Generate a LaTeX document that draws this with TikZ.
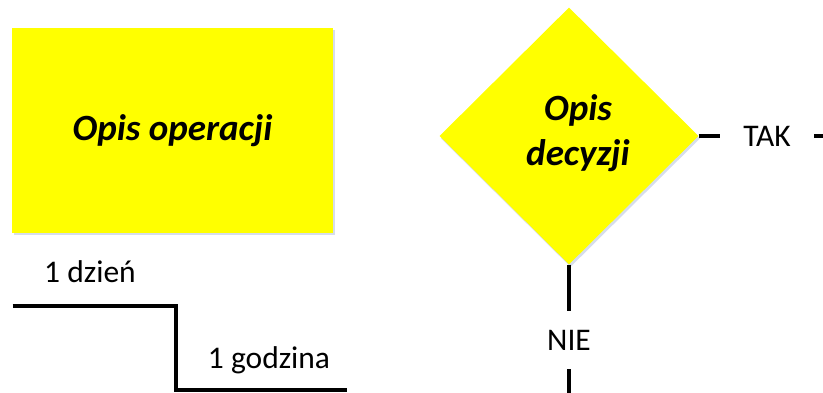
\documentclass[tikz,border=0pt]{standalone}
\usepackage{fontspec}
\setmainfont{Carlito}
\usetikzlibrary{
		positioning,
		shapes.geometric,
		shadows
	}
\tikzset{
		>=stealth
	}
\definecolor{zolty}{RGB}{255,255,0}
\definecolor{cien}{RGB}{196,206,228}
\tikzset{
		tekst/.style={font=\fontsize{31.5}{37}\selectfont, inner sep=0pt},
		opis/.style={font=\fontsize{37}{45}\selectfont\bfseries\itshape, align=center, inner sep=0pt},
		cienki cien/.style={drop shadow={shadow xshift=1.5pt, shadow yshift=-2.5pt, opacity=.7, fill=cien}},
		gruba/.style={line width=4.6pt}
	}

\begin{document}
\begin{tikzpicture}[x=1pt, y=-1pt] % 1 unit = 1 pixel of the picture, y pointing down
		\useasboundingbox (0,0) rectangle (823,393);
		% operation box and decision diamond
		\node[opis, fill=zolty, cienki cien, minimum width=321pt, minimum height=205pt] (operacja) at (172.5,130.5) {Opis operacji};
		\node[diamond, fill=zolty, cienki cien, inner sep=0pt, minimum width=259pt, minimum height=257pt] (decyzja) at (569,136) {};
		\node[opis] (opis decyzji) at (578,133) {Opis\\decyzji};
		% branches
		\node[tekst, inner xsep=23.5pt] (tak) at (767,136) {TAK};
		\coordinate (tak koniec) at (823,136);
		\draw[gruba] (decyzja.east) -- (tak.west) (tak.east) -- (tak koniec);
		\node[tekst, inner ysep=19pt] (nie) at (569,340) {NIE};
		\coordinate (nie koniec) at (569,393);
		\draw[gruba] (decyzja.south) -- (nie.north) (nie.south) -- (nie koniec);
		% time step
		\coordinate (krok start) at (12.7,306);
		\coordinate (krok dol) at (176,390);
		\coordinate (krok koniec) at (347,390);
		\draw[gruba] (krok start) -| (krok dol) -- (krok koniec);
		\node[tekst, anchor=base] (dzien) at (90,283) {1 dzień};
		\node[tekst, anchor=base] (godzina) at (269,368) {1 godzina};
	\end{tikzpicture}
\end{document}
